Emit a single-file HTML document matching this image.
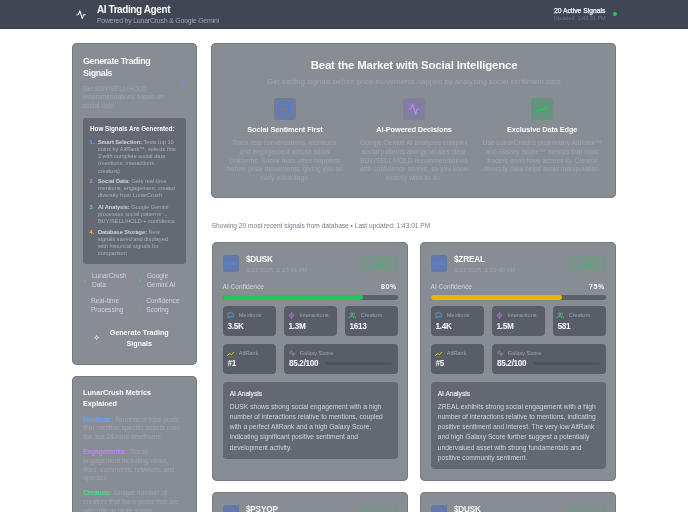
<!DOCTYPE html>
<html><head><meta charset="utf-8"><title>AI Trading Agent</title>
<style>
html,body{margin:0;padding:0;}
body{width:688px;height:512px;overflow:hidden;position:relative;background:#fff;font-family:"Liberation Sans", Arial, sans-serif;}
.t{position:absolute;white-space:nowrap;}
.r{position:absolute;}
svg.r{overflow:visible;}
</style></head><body>
<div class="r" style="left:0px;top:0px;width:688px;height:28.5px;background:rgb(65,70,84);"></div>
<div class="r" style="left:0px;top:28px;width:688px;height:1px;background:rgb(52,57,69);"></div>
<svg class="r" style="left:75.9px;top:9.6px;" width="10" height="9.3" viewBox="0 0 24 24" preserveAspectRatio="none" fill="none"><path d="M22 12h-2.48a2 2 0 0 0-1.93 1.46l-2.35 8.36a.25.25 0 0 1-.48 0L9.24 2.18a.25.25 0 0 0-.48 0l-2.35 8.36A2 2 0 0 1 4.49 12H2" stroke="#fff" stroke-width="2.6" stroke-linecap="round" stroke-linejoin="round"/></svg>
<div class="t" style="top:3.10px;font-size:10px;line-height:13.0px;color:#f9fafb;font-weight:700;letter-spacing:-0.4px;left:96.90px;">AI Trading Agent</div>
<div class="t" style="top:16.20px;font-size:7px;line-height:9.1px;color:rgb(156,163,175);letter-spacing:-0.236px;left:96.90px;">Powered by LunarCrush &amp; Google Gemini</div>
<div class="t" style="top:7.00px;font-size:6.75px;line-height:8.775px;color:#f3f4f6;left:505.40px;width:100px;text-align:right;-webkit-text-stroke:0.25px #f3f4f6;">20 Active Signals</div>
<div class="t" style="top:15.10px;font-size:5.5px;line-height:7.15px;color:rgb(107,114,128);left:505.70px;width:100px;text-align:right;">Updated: 1:43:01 PM</div>
<div class="r" style="left:612.6px;top:12.4px;width:4px;height:4px;background:#22c55e;border-radius:2px;"></div>
<div class="r" style="left:72px;top:43px;width:125px;height:321.5px;background:rgb(136,140,147);border-radius:5px;box-shadow:inset 0 0 0 1px rgb(118,122,131);"></div>
<div class="t" style="top:54.90px;font-size:8.9px;line-height:12.4px;color:#f9fafb;font-weight:700;letter-spacing:-0.356px;left:83.00px;">Generate Trading<br>Signals</div>
<div class="r" style="left:180.3px;top:80.3px;width:4.6px;height:4.6px;background:rgba(110,150,240,0.45);border-radius:2.3px;filter:blur(0.9px);"></div>
<div class="t" style="top:84.50px;font-size:6.58px;line-height:8.5px;color:rgb(156,163,175);left:82.70px;">Get BUY/SELL/HOLD<br>recommendations based on<br>social data</div>
<div class="r" style="left:83px;top:117.6px;width:102.8px;height:146px;background:rgb(101,105,115);border-radius:3px;"></div>
<div class="t" style="top:125.20px;font-size:6.3px;line-height:8.19px;color:#f9fafb;font-weight:700;left:90.00px;">How Signals Are Generated:</div>
<div class="t" style="top:139.00px;font-size:5.6px;line-height:7.28px;color:rgb(96,165,250);font-weight:700;left:89.60px;">1.</div>
<div class="t" style="top:139.00px;font-size:5.6px;line-height:7.12px;color:rgb(170,175,185);left:97.90px;"><span style="font-weight:700;color:rgb(209,213,219)">Smart Selection:</span> Tests top 10<br>coins by AltRank™, selects first<br>3 with complete social data<br>(mentions, interactions,<br>creators)</div>
<div class="t" style="top:178.20px;font-size:5.6px;line-height:7.28px;color:rgb(192,132,252);font-weight:700;left:89.60px;">2.</div>
<div class="t" style="top:178.20px;font-size:5.6px;line-height:7.12px;color:rgb(170,175,185);left:97.90px;"><span style="font-weight:700;color:rgb(209,213,219)">Social Data:</span> Gets real-time<br>mentions, engagement, creator<br>diversity from LunarCrush</div>
<div class="t" style="top:203.50px;font-size:5.6px;line-height:7.28px;color:rgb(74,222,128);font-weight:700;left:89.60px;">3.</div>
<div class="t" style="top:203.50px;font-size:5.6px;line-height:7.12px;color:rgb(170,175,185);left:97.90px;"><span style="font-weight:700;color:rgb(209,213,219)">AI Analysis:</span> Google Gemini<br>processes social patterns →<br>BUY/SELL/HOLD + confidence</div>
<div class="t" style="top:228.60px;font-size:5.6px;line-height:7.28px;color:rgb(250,204,21);font-weight:700;left:89.60px;">4.</div>
<div class="t" style="top:228.60px;font-size:5.6px;line-height:7.12px;color:rgb(170,175,185);left:97.90px;"><span style="font-weight:700;color:rgb(209,213,219)">Database Storage:</span> New<br>signals saved and displayed<br>with historical signals for<br>comparison</div>
<div class="r" style="left:83.7px;top:279.5px;width:2.4px;height:2.4px;background:rgb(52,211,153);border-radius:1.2px;opacity:.7;"></div>
<div class="t" style="top:271.00px;font-size:6.6px;line-height:9.0px;color:rgb(209,213,219);left:91.90px;">LunarCrush<br>Data</div>
<div class="r" style="left:138.70000000000002px;top:279.3px;width:2.4px;height:2.4px;background:rgb(52,211,153);border-radius:1.2px;opacity:.7;"></div>
<div class="t" style="top:271.00px;font-size:6.6px;line-height:9.0px;color:rgb(209,213,219);left:146.90px;">Google<br>Gemini AI</div>
<div class="r" style="left:83.7px;top:304.1px;width:2.4px;height:2.4px;background:rgb(120,150,150);border-radius:1.2px;opacity:.7;"></div>
<div class="t" style="top:296.00px;font-size:6.6px;line-height:9.0px;color:rgb(209,213,219);left:90.90px;">Real-time<br>Processing</div>
<div class="r" style="left:138.70000000000002px;top:304.1px;width:2.4px;height:2.4px;background:rgb(70,190,150);border-radius:1.2px;opacity:.7;"></div>
<div class="t" style="top:296.00px;font-size:6.6px;line-height:9.0px;color:rgb(209,213,219);left:146.20px;">Confidence<br>Scoring</div>
<svg class="r" style="left:93.9px;top:335.1px;" width="5.2" height="5.2" viewBox="0 0 24 24" preserveAspectRatio="none" fill="none"><path d="M12 2 L14.5 9.5 L22 12 L14.5 14.5 L12 22 L9.5 14.5 L2 12 L9.5 9.5 Z" stroke="#fff" stroke-width="2.5" stroke-linejoin="round"/></svg>
<div class="t" style="top:328.10px;font-size:7.2px;line-height:10.5px;color:#f9fafb;font-weight:700;left:94.20px;width:90px;text-align:center;">Generate Trading<br>Signals</div>
<div class="r" style="left:72px;top:376px;width:125px;height:160px;background:rgb(136,140,147);border-radius:5px;box-shadow:inset 0 0 0 1px rgb(118,122,131);"></div>
<div class="t" style="top:388.10px;font-size:7.2px;line-height:10.5px;color:#f9fafb;font-weight:700;left:83.00px;">LunarCrush Metrics<br>Explained</div>
<div class="t" style="top:415.90px;font-size:6.67px;line-height:8.5px;color:rgb(156,163,175);left:83.20px;"><span style="color:rgb(96,165,250);-webkit-text-stroke:0.2px rgb(96,165,250);margin-right:2px">Mentions:</span> Number of total posts<br>that mention specific assets over<br>the last 24-hour timeframe</div>
<div class="t" style="top:448.20px;font-size:6.67px;line-height:8.75px;color:rgb(156,163,175);left:83.20px;"><span style="color:rgb(192,132,252);-webkit-text-stroke:0.2px rgb(192,132,252);margin-right:2px">Engagements:</span> Social<br>engagement including views,<br>likes, comments, retweets, and<br>upvotes</div>
<div class="t" style="top:487.70px;font-size:6.67px;line-height:9.0px;color:rgb(156,163,175);left:83.20px;"><span style="color:rgb(74,222,128);-webkit-text-stroke:0.2px rgb(74,222,128);margin-right:1.5px">Creators:</span> Unique number of<br>creators that have posts that are<br>with one or more social</div>
<div class="r" style="left:211.3px;top:43px;width:404.7px;height:155px;background:rgb(136,140,147);border-radius:5px;box-shadow:inset 0 0 0 1px rgb(118,122,131);"></div>
<div class="t" style="top:58.00px;font-size:11.4px;line-height:14.82px;color:#f9fafb;font-weight:700;letter-spacing:-0.166px;left:264.00px;width:300px;text-align:center;">Beat the Market with Social Intelligence</div>
<div class="t" style="top:76.90px;font-size:7.64px;line-height:9.932px;color:rgb(156,163,175);left:224.00px;width:380px;text-align:center;">Get trading signals before price movements happen by analyzing social sentiment data</div>
<div class="r" style="left:274.25px;top:98px;width:21.5px;height:21.5px;background:rgb(106,123,166);border-radius:2.5px;"></div>
<div class="t" style="top:125.40px;font-size:7.4px;line-height:9.62px;color:#f9fafb;font-weight:700;letter-spacing:-0.1px;left:220.00px;width:130px;text-align:center;">Social Sentiment First</div>
<div class="t" style="top:139.30px;font-size:6.72px;line-height:8.72px;color:rgb(156,163,175);left:220.00px;width:130px;text-align:center;">Track real conversations, mentions,<br>and engagement across social<br>platforms. Social buzz often happens<br>before price movements, giving you an<br>early advantage.</div>
<div class="r" style="left:403.25px;top:98px;width:21.5px;height:21.5px;background:rgb(128,127,162);border-radius:2.5px;"></div>
<div class="t" style="top:125.40px;font-size:7.4px;line-height:9.62px;color:#f9fafb;font-weight:700;letter-spacing:-0.1px;left:349.00px;width:130px;text-align:center;">AI-Powered Decisions</div>
<div class="t" style="top:139.30px;font-size:6.72px;line-height:8.72px;color:rgb(156,163,175);left:349.00px;width:130px;text-align:center;">Google Gemini AI analyzes complex<br>social patterns and generates clear<br>BUY/SELL/HOLD recommendations<br>with confidence scores, so you know<br>exactly what to do.</div>
<div class="r" style="left:531.45px;top:98px;width:21.5px;height:21.5px;background:rgb(99,148,126);border-radius:2.5px;"></div>
<div class="t" style="top:125.40px;font-size:7.4px;line-height:9.62px;color:#f9fafb;font-weight:700;letter-spacing:-0.1px;left:477.20px;width:130px;text-align:center;">Exclusive Data Edge</div>
<div class="t" style="top:139.30px;font-size:6.72px;line-height:8.72px;color:rgb(156,163,175);left:477.20px;width:130px;text-align:center;">Use LunarCrush's proprietary AltRank™<br>and Galaxy Score™ metrics that most<br>traders don't have access to. Creator<br>diversity data helps avoid manipulation.</div>
<svg class="r" style="left:280.2px;top:103.5px;" width="10" height="10" viewBox="0 0 24 24" preserveAspectRatio="none" fill="none"><rect x="3" y="4" width="18" height="15" rx="2" stroke="rgb(59,130,246)" stroke-width="2.5" fill="rgba(160,110,80,0.4)"/></svg>
<svg class="r" style="left:408px;top:103px;" width="12" height="12" viewBox="0 0 24 24" preserveAspectRatio="none" fill="none"><path d="M22 12h-2.48a2 2 0 0 0-1.93 1.46l-2.35 8.36a.25.25 0 0 1-.48 0L9.24 2.18a.25.25 0 0 0-.48 0l-2.35 8.36A2 2 0 0 1 4.49 12H2" stroke="rgb(192,132,252)" stroke-width="2.4" stroke-linecap="round" stroke-linejoin="round"/></svg>
<svg class="r" style="left:536.2px;top:102.8px;" width="12" height="12" viewBox="0 0 24 24" preserveAspectRatio="none" fill="none"><path d="M4 16 L9 13 L12 14 L20 9" stroke="rgb(34,197,94)" stroke-width="3" stroke-linecap="round" stroke-linejoin="round"/></svg>
<div class="t" style="top:222.00px;font-size:6.6px;line-height:8.58px;color:rgb(118,124,136);left:211.70px;">Showing 20 most recent signals from database • Last updated: 1:43:01 PM</div>
<div class="r" style="left:211.75px;top:241.5px;width:196px;height:239px;background:rgb(136,140,147);border-radius:5px;box-shadow:inset 0 0 0 1px rgb(118,122,131);"></div>
<div class="r" style="left:222.75px;top:255.0px;width:16.5px;height:16.5px;background:rgb(99,121,172);border-radius:2px;"></div>
<div class="t" style="top:260.50px;font-size:4.3px;line-height:5.59px;color:rgb(70,140,245);font-weight:700;letter-spacing:0.35px;left:223.00px;width:16px;text-align:center;overflow:hidden;">DUSK</div>
<div class="t" style="top:254.80px;font-size:8.2px;line-height:10.66px;color:#f9fafb;font-weight:700;letter-spacing:-0.17px;left:245.95px;">$DUSK</div>
<div class="t" style="top:265.60px;font-size:6.1px;line-height:7.93px;color:rgb(156,163,175);left:246.35px;">6/21/2025, 2:17:41 AM</div>
<div class="r" style="left:359.25px;top:255.7px;width:39px;height:16px;background:rgba(34,197,94,0.1);border-radius:5px;box-shadow:inset 0 0 0 1px rgba(34,197,94,0.14);"></div>
<svg class="r" style="left:367.25px;top:261.1px;" width="5.5" height="5.5" viewBox="0 0 24 24" preserveAspectRatio="none" fill="none"><path d="M2 17 L9 10 L13 14 L22 5" stroke="rgb(34,197,94)" stroke-width="3" stroke-linecap="round" stroke-linejoin="round"/></svg>
<div class="t" style="top:260.50px;font-size:6.2px;line-height:8.06px;color:rgb(34,197,94);font-weight:700;left:377.95px;">BUY</div>
<div class="t" style="top:282.90px;font-size:6.62px;line-height:8.606px;color:rgb(209,213,219);left:222.50px;">AI Confidence</div>
<div class="t" style="top:282.30px;font-size:7px;line-height:9.1px;color:#f9fafb;font-weight:700;letter-spacing:0.7px;left:357.05px;width:40px;text-align:right;">80%</div>
<div class="r" style="left:222.5px;top:295.3px;width:175px;height:4.6px;background:rgb(92,97,108);border-radius:2.3px;"></div>
<div class="r" style="left:222.5px;top:295.3px;width:140.0px;height:4.6px;background:#22c55e;border-radius:2.3px;"></div>
<div class="r" style="left:222.5px;top:306.1px;width:53.0px;height:30.2px;background:rgb(88,93,104);border-radius:4px;"></div>
<div class="t" style="top:312.20px;font-size:5.6px;line-height:7.28px;color:rgb(156,163,175);left:238.70px;">Mentions</div>
<div class="t" style="top:322.20px;font-size:8.2px;line-height:10.66px;color:#f9fafb;font-weight:700;letter-spacing:-0.3px;left:227.50px;">3.5K</div>
<svg class="r" style="left:227.3px;top:311.7px;" width="7" height="7" viewBox="0 0 24 24" preserveAspectRatio="none" fill="none"><path d="M21 15a2 2 0 0 1-2 2H7l-4 4V5a2 2 0 0 1 2-2h14a2 2 0 0 1 2 2z" stroke="rgb(96,165,250)" stroke-width="2.4" stroke-linejoin="round"/></svg>
<div class="r" style="left:283.5px;top:306.1px;width:53.0px;height:30.2px;background:rgb(88,93,104);border-radius:4px;"></div>
<div class="t" style="top:312.20px;font-size:5.6px;line-height:7.28px;color:rgb(156,163,175);left:299.70px;">Interactions</div>
<div class="t" style="top:322.20px;font-size:8.2px;line-height:10.66px;color:#f9fafb;font-weight:700;letter-spacing:-0.3px;left:288.50px;">1.3M</div>
<svg class="r" style="left:288.3px;top:311.7px;" width="7" height="7" viewBox="0 0 24 24" preserveAspectRatio="none" fill="none"><path d="M13 2 L3 14 h9 l-1 8 10-12 h-9 l1-8z" stroke="rgb(192,132,252)" stroke-width="2.4" stroke-linejoin="round"/></svg>
<div class="r" style="left:344.5px;top:306.1px;width:53.0px;height:30.2px;background:rgb(88,93,104);border-radius:4px;"></div>
<div class="t" style="top:312.20px;font-size:5.6px;line-height:7.28px;color:rgb(156,163,175);left:360.70px;">Creators</div>
<div class="t" style="top:322.20px;font-size:8.2px;line-height:10.66px;color:#f9fafb;font-weight:700;letter-spacing:-0.3px;left:349.50px;">1613</div>
<svg class="r" style="left:349.3px;top:311.7px;" width="7" height="7" viewBox="0 0 24 24" preserveAspectRatio="none" fill="none"><path d="M16 21v-2a4 4 0 0 0-4-4H6a4 4 0 0 0-4 4v2" stroke="rgb(74,222,128)" stroke-width="2.4"/><circle cx="9" cy="7" r="4" stroke="rgb(74,222,128)" stroke-width="2.4"/><path d="M22 21v-2a4 4 0 0 0-3-3.87M16 3.13a4 4 0 0 1 0 7.75" stroke="rgb(74,222,128)" stroke-width="2.4"/></svg>
<div class="r" style="left:222.5px;top:344.0px;width:53.0px;height:29.8px;background:rgb(88,93,104);border-radius:4px;"></div>
<svg class="r" style="left:227.3px;top:349.7px;" width="7.5" height="7.5" viewBox="0 0 24 24" preserveAspectRatio="none" fill="none"><path d="M2 17 L8.5 10.5 L13.5 15.5 L22 7" stroke="rgb(250,204,21)" stroke-width="3.2" stroke-linecap="round" stroke-linejoin="round"/></svg>
<div class="t" style="top:350.00px;font-size:5.6px;line-height:7.28px;color:rgb(156,163,175);left:238.70px;">AltRank</div>
<div class="t" style="top:359.40px;font-size:8.2px;line-height:10.66px;color:#f9fafb;font-weight:700;letter-spacing:-0.3px;left:227.50px;">#1</div>
<div class="r" style="left:283.5px;top:344.0px;width:114.0px;height:29.8px;background:rgb(88,93,104);border-radius:4px;"></div>
<svg class="r" style="left:289.0px;top:350.1px;" width="6.5" height="6.5" viewBox="0 0 24 24" preserveAspectRatio="none" fill="none"><path d="M22 12h-4l-3 9L9 3l-3 9H2" stroke="rgb(156,163,175)" stroke-width="2.4" stroke-linecap="round" stroke-linejoin="round"/></svg>
<div class="t" style="top:349.80px;font-size:5.6px;line-height:7.28px;color:rgb(156,163,175);left:299.70px;">Galaxy Score</div>
<div class="t" style="top:359.20px;font-size:8.2px;line-height:10.66px;color:#f9fafb;font-weight:700;letter-spacing:-0.3px;left:288.90px;">85.2/100</div>
<div class="r" style="left:325.0px;top:361.9px;width:67.2px;height:2.8px;background:rgb(78,83,94);border-radius:1.4px;"></div>
<div class="r" style="left:222.5px;top:382.0px;width:175px;height:76.7px;background:rgb(99,104,114);border-radius:4px;"></div>
<div class="t" style="top:389.50px;font-size:6.6px;line-height:8.58px;color:#e5e7eb;left:229.70px;-webkit-text-stroke:0.2px #e5e7eb;">AI Analysis</div>
<div class="t" style="top:401.70px;font-size:6.7px;line-height:10.25px;color:rgb(209,213,219);left:229.70px;">DUSK shows strong social engagement with a high<br>number of interactions relative to mentions, coupled<br>with a perfect AltRank and a high Galaxy Score,<br>indicating significant positive sentiment and<br>development activity.</div>
<div class="r" style="left:419.75px;top:241.5px;width:196px;height:239px;background:rgb(136,140,147);border-radius:5px;box-shadow:inset 0 0 0 1px rgb(118,122,131);"></div>
<div class="r" style="left:430.75px;top:255.0px;width:16.5px;height:16.5px;background:rgb(99,121,172);border-radius:2px;"></div>
<div class="t" style="top:260.50px;font-size:4.3px;line-height:5.59px;color:rgb(70,140,245);font-weight:700;letter-spacing:0.35px;left:431.00px;width:16px;text-align:center;overflow:hidden;">ZREA</div>
<div class="t" style="top:254.80px;font-size:8.2px;line-height:10.66px;color:#f9fafb;font-weight:700;letter-spacing:-0.17px;left:453.95px;">$ZREAL</div>
<div class="t" style="top:265.60px;font-size:6.1px;line-height:7.93px;color:rgb(156,163,175);left:454.35px;">6/21/2025, 1:19:40 AM</div>
<div class="r" style="left:567.25px;top:255.7px;width:39px;height:16px;background:rgba(34,197,94,0.1);border-radius:5px;box-shadow:inset 0 0 0 1px rgba(34,197,94,0.14);"></div>
<svg class="r" style="left:575.25px;top:261.1px;" width="5.5" height="5.5" viewBox="0 0 24 24" preserveAspectRatio="none" fill="none"><path d="M2 17 L9 10 L13 14 L22 5" stroke="rgb(34,197,94)" stroke-width="3" stroke-linecap="round" stroke-linejoin="round"/></svg>
<div class="t" style="top:260.50px;font-size:6.2px;line-height:8.06px;color:rgb(34,197,94);font-weight:700;left:585.95px;">BUY</div>
<div class="t" style="top:282.90px;font-size:6.62px;line-height:8.606px;color:rgb(209,213,219);left:430.50px;">AI Confidence</div>
<div class="t" style="top:282.30px;font-size:7px;line-height:9.1px;color:#f9fafb;font-weight:700;letter-spacing:0.7px;left:565.05px;width:40px;text-align:right;">75%</div>
<div class="r" style="left:430.5px;top:295.3px;width:175px;height:4.6px;background:rgb(92,97,108);border-radius:2.3px;"></div>
<div class="r" style="left:430.5px;top:295.3px;width:131.25px;height:4.6px;background:#eab308;border-radius:2.3px;"></div>
<div class="r" style="left:430.5px;top:306.1px;width:53.0px;height:30.2px;background:rgb(88,93,104);border-radius:4px;"></div>
<div class="t" style="top:312.20px;font-size:5.6px;line-height:7.28px;color:rgb(156,163,175);left:446.70px;">Mentions</div>
<div class="t" style="top:322.20px;font-size:8.2px;line-height:10.66px;color:#f9fafb;font-weight:700;letter-spacing:-0.3px;left:435.50px;">1.4K</div>
<svg class="r" style="left:435.3px;top:311.7px;" width="7" height="7" viewBox="0 0 24 24" preserveAspectRatio="none" fill="none"><path d="M21 15a2 2 0 0 1-2 2H7l-4 4V5a2 2 0 0 1 2-2h14a2 2 0 0 1 2 2z" stroke="rgb(96,165,250)" stroke-width="2.4" stroke-linejoin="round"/></svg>
<div class="r" style="left:491.5px;top:306.1px;width:53.0px;height:30.2px;background:rgb(88,93,104);border-radius:4px;"></div>
<div class="t" style="top:312.20px;font-size:5.6px;line-height:7.28px;color:rgb(156,163,175);left:507.70px;">Interactions</div>
<div class="t" style="top:322.20px;font-size:8.2px;line-height:10.66px;color:#f9fafb;font-weight:700;letter-spacing:-0.3px;left:496.50px;">1.5M</div>
<svg class="r" style="left:496.3px;top:311.7px;" width="7" height="7" viewBox="0 0 24 24" preserveAspectRatio="none" fill="none"><path d="M13 2 L3 14 h9 l-1 8 10-12 h-9 l1-8z" stroke="rgb(192,132,252)" stroke-width="2.4" stroke-linejoin="round"/></svg>
<div class="r" style="left:552.5px;top:306.1px;width:53.0px;height:30.2px;background:rgb(88,93,104);border-radius:4px;"></div>
<div class="t" style="top:312.20px;font-size:5.6px;line-height:7.28px;color:rgb(156,163,175);left:568.70px;">Creators</div>
<div class="t" style="top:322.20px;font-size:8.2px;line-height:10.66px;color:#f9fafb;font-weight:700;letter-spacing:-0.3px;left:557.50px;">581</div>
<svg class="r" style="left:557.3px;top:311.7px;" width="7" height="7" viewBox="0 0 24 24" preserveAspectRatio="none" fill="none"><path d="M16 21v-2a4 4 0 0 0-4-4H6a4 4 0 0 0-4 4v2" stroke="rgb(74,222,128)" stroke-width="2.4"/><circle cx="9" cy="7" r="4" stroke="rgb(74,222,128)" stroke-width="2.4"/><path d="M22 21v-2a4 4 0 0 0-3-3.87M16 3.13a4 4 0 0 1 0 7.75" stroke="rgb(74,222,128)" stroke-width="2.4"/></svg>
<div class="r" style="left:430.5px;top:344.0px;width:53.0px;height:29.8px;background:rgb(88,93,104);border-radius:4px;"></div>
<svg class="r" style="left:435.3px;top:349.7px;" width="7.5" height="7.5" viewBox="0 0 24 24" preserveAspectRatio="none" fill="none"><path d="M2 17 L8.5 10.5 L13.5 15.5 L22 7" stroke="rgb(250,204,21)" stroke-width="3.2" stroke-linecap="round" stroke-linejoin="round"/></svg>
<div class="t" style="top:350.00px;font-size:5.6px;line-height:7.28px;color:rgb(156,163,175);left:446.70px;">AltRank</div>
<div class="t" style="top:359.40px;font-size:8.2px;line-height:10.66px;color:#f9fafb;font-weight:700;letter-spacing:-0.3px;left:435.50px;">#5</div>
<div class="r" style="left:491.5px;top:344.0px;width:114.0px;height:29.8px;background:rgb(88,93,104);border-radius:4px;"></div>
<svg class="r" style="left:497.0px;top:350.1px;" width="6.5" height="6.5" viewBox="0 0 24 24" preserveAspectRatio="none" fill="none"><path d="M22 12h-4l-3 9L9 3l-3 9H2" stroke="rgb(156,163,175)" stroke-width="2.4" stroke-linecap="round" stroke-linejoin="round"/></svg>
<div class="t" style="top:349.80px;font-size:5.6px;line-height:7.28px;color:rgb(156,163,175);left:507.70px;">Galaxy Score</div>
<div class="t" style="top:359.20px;font-size:8.2px;line-height:10.66px;color:#f9fafb;font-weight:700;letter-spacing:-0.3px;left:496.90px;">85.2/100</div>
<div class="r" style="left:533.0px;top:361.9px;width:67.2px;height:2.8px;background:rgb(78,83,94);border-radius:1.4px;"></div>
<div class="r" style="left:430.5px;top:382.0px;width:175px;height:86.89999999999999px;background:rgb(99,104,114);border-radius:4px;"></div>
<div class="t" style="top:389.50px;font-size:6.6px;line-height:8.58px;color:#e5e7eb;left:437.70px;-webkit-text-stroke:0.2px #e5e7eb;">AI Analysis</div>
<div class="t" style="top:401.70px;font-size:6.7px;line-height:10.25px;color:rgb(209,213,219);left:437.70px;">ZREAL exhibits strong social engagement with a high<br>number of interactions relative to mentions, indicating<br>positive sentiment and interest. The very low AltRank<br>and high Galaxy Score further suggest a potentially<br>undervalued asset with strong fundamentals and<br>positive community sentiment.</div>
<div class="r" style="left:211.75px;top:491.7px;width:196px;height:60px;background:rgb(136,140,147);border-radius:5px;box-shadow:inset 0 0 0 1px rgb(118,122,131);"></div>
<div class="r" style="left:222.75px;top:505.2px;width:16.5px;height:16.5px;background:rgb(99,121,172);border-radius:2px;"></div>
<div class="t" style="top:505.00px;font-size:8.2px;line-height:10.66px;color:#f9fafb;font-weight:700;letter-spacing:-0.17px;left:245.95px;">$PSYOP</div>
<div class="r" style="left:359.25px;top:505.9px;width:39px;height:16px;background:rgba(34,197,94,0.1);border-radius:5px;box-shadow:inset 0 0 0 1px rgba(34,197,94,0.14);"></div>
<div class="r" style="left:419.75px;top:491.7px;width:196px;height:60px;background:rgb(136,140,147);border-radius:5px;box-shadow:inset 0 0 0 1px rgb(118,122,131);"></div>
<div class="r" style="left:430.75px;top:505.2px;width:16.5px;height:16.5px;background:rgb(99,121,172);border-radius:2px;"></div>
<div class="t" style="top:505.00px;font-size:8.2px;line-height:10.66px;color:#f9fafb;font-weight:700;letter-spacing:-0.17px;left:453.95px;">$DUSK</div>
<div class="r" style="left:567.25px;top:505.9px;width:39px;height:16px;background:rgba(34,197,94,0.1);border-radius:5px;box-shadow:inset 0 0 0 1px rgba(34,197,94,0.14);"></div>
</body></html>
